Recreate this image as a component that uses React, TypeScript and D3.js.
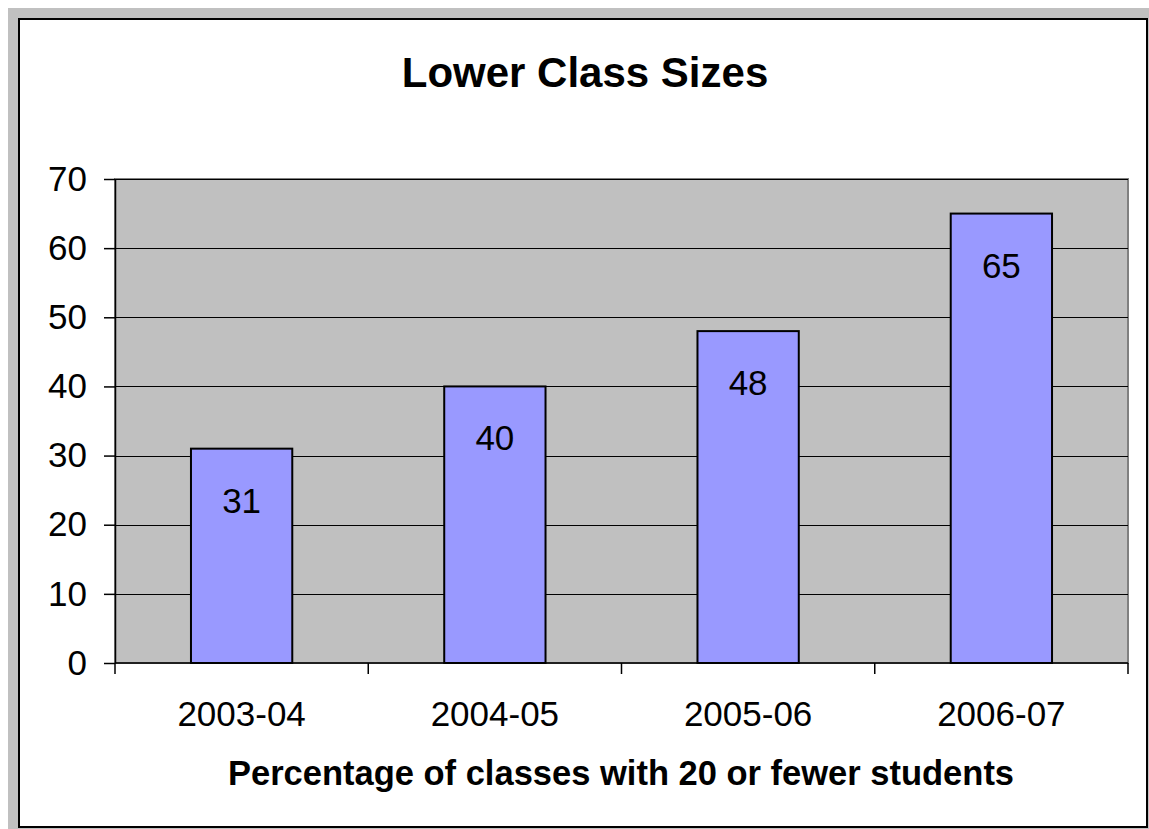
import { useEffect, useRef } from "react";
import * as d3 from "d3";

const years = ["2003-04", "2004-05", "2005-06", "2006-07"];
const percentages = [31, 40, 48, 65];
const yTicks = [0, 10, 20, 30, 40, 50, 60, 70];

const chartTitle = "Lower Class Sizes";
const xTitle = "Percentage of classes with 20 or fewer students";

export default function App() {
  const svgRef = useRef<SVGSVGElement | null>(null);

  useEffect(() => {
    const width = 1149;
    const height = 829;
    const font = "'Liberation Sans', Arial, sans-serif";

    d3.select(svgRef.current).selectAll("*").remove();

    const svg = d3
      .select(svgRef.current)
      .attr("width", width)
      .attr("height", height)
      .style("position", "absolute")
      .style("left", "0px")
      .style("top", "0px")
      .style("display", "block");

    svg.append("rect").attr("width", width).attr("height", height).attr("fill", "white");
    svg.append("rect")
      .attr("x", 8)
      .attr("y", 8)
      .attr("width", width - 8)
      .attr("height", height - 8)
      .attr("fill", "#c0c0c0");

    const g = svg.append("g");

    g.append("rect")
      .attr("x", 19)
      .attr("y", 19)
      .attr("width", 1128)
      .attr("height", 808)
      .attr("fill", "white")
      .attr("stroke", "black")
      .attr("stroke-width", 2);

    const plot = { left: 115, right: 1128, top: 179, bottom: 663 };

    const xScale = d3
      .scaleBand()
      .domain(years)
      .range([plot.left, plot.right]);

    const yScale = d3
      .scaleLinear()
      .domain([0, 70])
      .range([plot.bottom, plot.top]);

    g.append("rect")
      .attr("x", plot.left)
      .attr("y", plot.top)
      .attr("width", plot.right - plot.left)
      .attr("height", plot.bottom - plot.top)
      .attr("fill", "#c0c0c0")
      .attr("stroke", "#808080")
      .attr("stroke-width", 2);

    // gridlines
    g.append("g")
      .selectAll("line")
      .data(yTicks.filter(d => d > 0))
      .enter()
      .append("line")
      .attr("x1", plot.left)
      .attr("x2", plot.right)
      .attr("y1", d => Math.round(yScale(d)) + 0.5)
      .attr("y2", d => Math.round(yScale(d)) + 0.5)
      .attr("stroke", "black")
      .attr("stroke-width", 1);

    // bars
    const barW = xScale.bandwidth() * 0.4;
    g.append("g")
      .selectAll("rect")
      .data(percentages)
      .enter()
      .append("rect")
      .attr("x", (d, i) => xScale(years[i])! + (xScale.bandwidth() - barW) / 2)
      .attr("y", d => yScale(d))
      .attr("width", barW)
      .attr("height", d => plot.bottom - yScale(d))
      .attr("fill", "#9999ff")
      .attr("stroke", "black")
      .attr("stroke-width", 2);

    // value labels
    g.append("g")
      .selectAll("text")
      .data(percentages)
      .enter()
      .append("text")
      .attr("x", (d, i) => xScale(years[i])! + xScale.bandwidth() / 2)
      .attr("y", d => yScale(d) + 64)
      .attr("text-anchor", "middle")
      .style("font-family", font)
      .style("font-size", "35px")
      .text(d => d);

    // y axis
    const yAxis = d3
      .axisLeft(yScale)
      .tickValues(yTicks)
      .tickSize(11)
      .tickPadding(17)
      .tickSizeOuter(0);

    const yG = g
      .append("g")
      .attr("transform", `translate(${plot.left}, 0)`)
      .call(yAxis);
    yG.select(".domain").attr("stroke", "black").attr("stroke-width", 1.5);
    yG.selectAll(".tick line").attr("stroke", "black").attr("stroke-width", 1.5);
    yG.selectAll(".tick text")
      .attr("fill", "black")
      .style("font-family", font)
      .style("font-size", "35px");

    // x axis
    const xG = g.append("g").attr("transform", `translate(0, ${plot.bottom})`);
    xG.append("line")
      .attr("x1", plot.left)
      .attr("x2", plot.right)
      .attr("stroke", "black")
      .attr("stroke-width", 1.5);
    const bounds = years.map(d => xScale(d)!).concat([plot.right]);
    xG.selectAll("line.tick")
      .data(bounds)
      .enter()
      .append("line")
      .attr("class", "tick")
      .attr("x1", d => d)
      .attr("x2", d => d)
      .attr("y1", 0)
      .attr("y2", 11)
      .attr("stroke", "black")
      .attr("stroke-width", 1.5);
    xG.selectAll("text")
      .data(years)
      .enter()
      .append("text")
      .attr("x", d => xScale(d)! + xScale.bandwidth() / 2)
      .attr("y", 63)
      .attr("text-anchor", "middle")
      .style("font-family", font)
      .style("font-size", "35px")
      .text(d => d);

    // titles
    g.append("text")
      .attr("x", 585)
      .attr("y", 87)
      .attr("text-anchor", "middle")
      .style("font-family", font)
      .style("font-weight", "bold")
      .style("font-size", "42px")
      .text(chartTitle);

    g.append("text")
      .attr("x", 621)
      .attr("y", 785)
      .attr("text-anchor", "middle")
      .style("font-family", font)
      .style("font-weight", "bold")
      .style("font-size", "34.5px")
      .text(xTitle);
  }, []);

  return <svg ref={svgRef}></svg>;
}
